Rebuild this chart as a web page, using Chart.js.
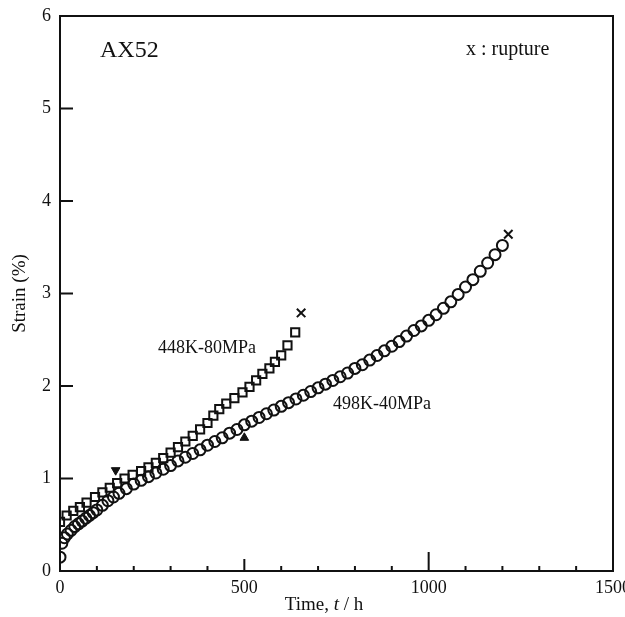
<!DOCTYPE html>
<html>
<head>
<meta charset="utf-8">
<script src="https://cdn.jsdelivr.net/npm/chart.js@4.4.1/dist/chart.umd.min.js"></script>
<style>
  html, body { margin: 0; padding: 0; background: #fff; }
  #wrap { width: 625px; height: 617px; }
</style>
</head>
<body>
<div id="wrap"><canvas id="creepChart" width="625" height="617"></canvas></div>
<script>
// 498K-40MPa (circles)
const circleTime = [0, 5, 12, 20, 30, 40, 50, 60, 70, 80, 90, 100, 115, 130, 145, 160, 180, 200, 220, 240,
  260, 280, 300, 320, 340, 360, 380, 400, 420, 440, 460, 480, 500, 520, 540, 560, 580, 600, 620, 640,
  660, 680, 700, 720, 740, 760, 780, 800, 820, 840, 860, 880, 900, 920, 940, 960, 980, 1000, 1020, 1040,
  1060, 1080, 1100, 1120, 1140, 1160, 1180, 1200];
const circleStrain = [0.15, 0.30, 0.36, 0.40, 0.44, 0.48, 0.51, 0.54, 0.57, 0.60, 0.63, 0.66, 0.71, 0.76, 0.80, 0.84, 0.89, 0.94, 0.98, 1.02,
  1.06, 1.10, 1.14, 1.19, 1.23, 1.27, 1.31, 1.36, 1.40, 1.44, 1.49, 1.53, 1.58, 1.62, 1.66, 1.70, 1.74, 1.78, 1.82, 1.86,
  1.90, 1.94, 1.98, 2.02, 2.06, 2.10, 2.14, 2.19, 2.23, 2.28, 2.33, 2.38, 2.43, 2.48, 2.54, 2.60, 2.65, 2.71, 2.77, 2.84,
  2.91, 2.99, 3.07, 3.15, 3.24, 3.33, 3.42, 3.52];

// 448K-80MPa (squares)
const squareTime = [0, 18, 36, 54, 72, 95, 115, 135, 155, 175, 197, 220, 240, 260, 280, 300, 320, 340, 360, 380,
  400, 416, 432, 451, 473, 495, 514, 532, 549, 568, 583, 600, 617, 638];
const squareStrain = [0.53, 0.60, 0.65, 0.69, 0.74, 0.80, 0.85, 0.90, 0.95, 1.00, 1.04, 1.08, 1.12, 1.17, 1.22, 1.28, 1.34, 1.40, 1.46, 1.53,
  1.60, 1.68, 1.75, 1.81, 1.87, 1.93, 1.99, 2.06, 2.13, 2.19, 2.26, 2.33, 2.44, 2.58];

// rupture points (x) and the two triangle markers
const ruptureTime = [654, 1216];
const ruptureStrain = [2.79, 3.64];
const arrowDownTime = [151];
const arrowDownStrain = [1.09];
const arrowUpTime = [500];
const arrowUpStrain = [1.44];

const xTicks = [0, 500, 1000, 1500];
const xMinorTicks = [100, 200, 300, 400, 600, 700, 800, 900, 1100, 1200, 1300, 1400];
const yTicks = [0, 1, 2, 3, 4, 5, 6];

const serif = "'Liberation Serif', 'DejaVu Serif', serif";
const ink = '#111';

const toPoints = (xs, ys) => xs.map((x, i) => ({ x: x, y: ys[i] }));

// frame, inward ticks, labels
const framePlugin = {
    id: 'frame',
    afterDraw(chart) {
        const { ctx, chartArea: a, scales } = chart;
        const xs = scales.x, ys = scales.y;
        ctx.save();
        ctx.strokeStyle = ink;
        ctx.lineWidth = 2;
        ctx.strokeRect(a.left, a.top, a.right - a.left, a.bottom - a.top);

        ctx.beginPath();
        yTicks.slice(1, -1).forEach(v => {
            const py = ys.getPixelForValue(v);
            ctx.moveTo(a.left, py);
            ctx.lineTo(a.left + 13, py);
        });
        xMinorTicks.forEach(v => {
            const px = xs.getPixelForValue(v);
            ctx.moveTo(px, a.bottom);
            ctx.lineTo(px, a.bottom - 5);
        });
        const px500 = xs.getPixelForValue(500);
        ctx.moveTo(px500, a.bottom);
        ctx.lineTo(px500, a.bottom - 12);
        const px1000 = xs.getPixelForValue(1000);
        ctx.moveTo(px1000, a.bottom);
        ctx.lineTo(px1000, a.bottom - 19);
        ctx.stroke();

        ctx.fillStyle = ink;
        ctx.textBaseline = 'alphabetic';
        ctx.textAlign = 'left';
        ctx.font = `24px ${serif}`;
        ctx.fillText('AX52', 100, 57);
        ctx.font = `20px ${serif}`;
        ctx.fillText('x : rupture', 466, 55);
        ctx.font = `18px ${serif}`;
        ctx.fillText('448K-80MPa', 158, 353);
        ctx.fillText('498K-40MPa', 333, 409);

        // x axis title with italic t
        const parts = [['Time, ', `19px ${serif}`], ['t', `italic 19px ${serif}`], [' / h', `19px ${serif}`]];
        let total = 0;
        parts.forEach(p => { ctx.font = p[1]; total += ctx.measureText(p[0]).width; });
        let cx = 324 - total / 2;
        parts.forEach(p => {
            ctx.font = p[1];
            ctx.fillText(p[0], cx, 610);
            cx += ctx.measureText(p[0]).width;
        });
        ctx.restore();
    }
};

const ctx = document.getElementById('creepChart').getContext('2d');
new Chart(ctx, {
    type: 'scatter',
    data: {
        datasets: [
            {
                label: '498K-40MPa',
                data: toPoints(circleTime, circleStrain),
                pointStyle: 'circle',
                pointRadius: 5.5,
                borderColor: ink,
                backgroundColor: 'rgba(0,0,0,0)',
                pointBorderWidth: 2
            },
            {
                label: '448K-80MPa',
                data: toPoints(squareTime, squareStrain),
                pointStyle: 'rect',
                pointRadius: 5.8,
                borderColor: ink,
                backgroundColor: 'rgba(0,0,0,0)',
                pointBorderWidth: 2
            },
            {
                label: 'rupture',
                data: toPoints(ruptureTime, ruptureStrain),
                pointStyle: 'crossRot',
                pointRadius: 6,
                borderColor: ink,
                pointBorderWidth: 2
            },
            {
                label: 'down',
                data: toPoints(arrowDownTime, arrowDownStrain),
                pointStyle: 'triangle',
                rotation: 180,
                pointRadius: 5,
                borderColor: ink,
                backgroundColor: ink,
                pointBorderWidth: 1
            },
            {
                label: 'up',
                data: toPoints(arrowUpTime, arrowUpStrain),
                pointStyle: 'triangle',
                pointRadius: 5,
                borderColor: ink,
                backgroundColor: ink,
                pointBorderWidth: 1
            }
        ]
    },
    options: {
        responsive: false,
        animation: false,
        layout: { padding: { top: 16, right: 12, left: 0, bottom: 0 } },
        plugins: { legend: { display: false }, tooltip: { enabled: false } },
        scales: {
            x: {
                type: 'linear',
                min: 0,
                max: 1500,
                grid: { display: false, drawTicks: false },
                border: { display: false },
                afterBuildTicks: s => { s.ticks = xTicks.map(v => ({ value: v })); },
                ticks: { color: ink, font: { family: serif, size: 18 }, padding: 6, maxRotation: 0, callback: v => String(v) },
                afterFit: s => { s.height = 46; s.paddingLeft = 0; s.paddingRight = 0; }
            },
            y: {
                type: 'linear',
                min: 0,
                max: 6,
                grid: { display: false, drawTicks: false },
                border: { display: false },
                afterBuildTicks: s => { s.ticks = yTicks.map(v => ({ value: v })); },
                ticks: { color: ink, font: { family: serif, size: 18 }, padding: 9, callback: v => String(v) },
                title: { display: true, text: 'Strain (%)', color: ink, font: { family: serif, size: 19 }, padding: { top: 9, bottom: 0 } },
                afterFit: s => { s.width = 60; s.paddingTop = 0; s.paddingBottom = 0; }
            }
        }
    },
    plugins: [framePlugin]
});
</script>
</body>
</html>
